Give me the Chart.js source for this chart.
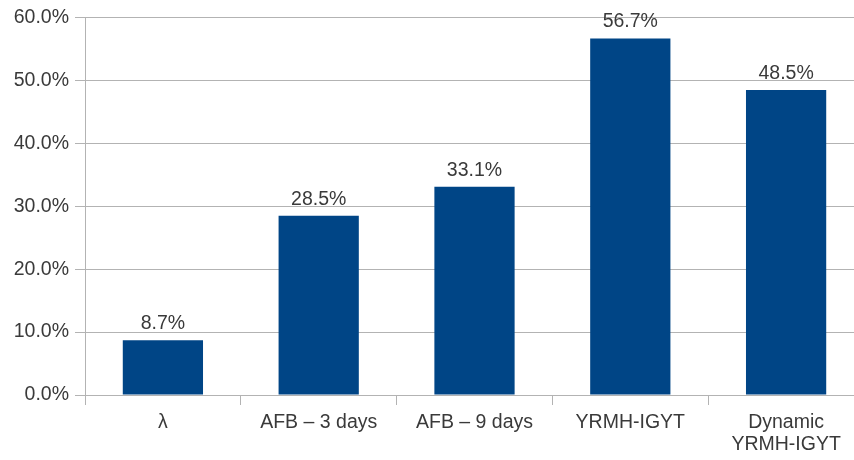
<!DOCTYPE html>
<html><head><meta charset="utf-8">
<script src="https://cdn.jsdelivr.net/npm/chart.js@4/dist/chart.umd.min.js"></script>
<style>
html,body{margin:0;padding:0;background:#fff;overflow:hidden;}
#wrap{position:relative;width:864px;height:460px;}
</style></head>
<body>
<div id="wrap"><canvas id="c"></canvas></div>
<script>
const categories = ["λ", "AFB – 3 days", "AFB – 9 days", "YRMH-IGYT", ["Dynamic", "YRMH-IGYT"]];
const values = [8.7, 28.5, 33.1, 56.7, 48.5];
const yTicks = [0, 10, 20, 30, 40, 50, 60];

const FONT = "'Liberation Sans', Arial, sans-serif";
const FS = 19.5;
const TEXT = "#3a3a3a";
const GRID = "#b3b3b3";

const labelPlugin = {
  id: 'barLabels',
  afterDatasetsDraw(chart) {
    const ctx = chart.ctx;
    const meta = chart.getDatasetMeta(0);
    ctx.save();
    ctx.font = FS + "px " + FONT;
    ctx.fillStyle = TEXT;
    ctx.textAlign = 'center';
    ctx.textBaseline = 'alphabetic';
    meta.data.forEach((bar, i) => {
      ctx.fillText(values[i].toFixed(1) + '%', bar.x, bar.y - 11);
    });
    ctx.restore();
  }
};

new Chart(document.getElementById('c'), {
  type: 'bar',
  data: {
    labels: categories,
    datasets: [{
      data: values,
      backgroundColor: '#004586',
      borderWidth: 0,
      categoryPercentage: 1,
      barPercentage: 0.515
    }]
  },
  plugins: [labelPlugin],
  options: {
    responsive: true,
    maintainAspectRatio: false,
    animation: false,
    layout: { padding: { top: 16, left: 0, right: 0, bottom: 0 } },
    plugins: { legend: { display: false }, tooltip: { enabled: false } },
    scales: {
      x: {
        offset: true,
        grid: { display: true, offset: true, drawOnChartArea: false, drawTicks: true, tickLength: 10, color: GRID, lineWidth: 1 },
        border: { display: true, color: GRID, width: 1 },
        ticks: { color: TEXT, font: { family: FONT, size: FS, lineHeight: 1.13 }, padding: 7, maxRotation: 0, autoSkip: false },
        afterFit(scale) { scale.height = 65; }
      },
      y: {
        min: 0, max: 60,
        afterBuildTicks(scale) { scale.ticks = yTicks.map(v => ({ value: v })); },
        grid: { color: GRID, lineWidth: 1, tickLength: 10, drawTicks: true },
        border: { display: true, color: GRID, width: 1 },
        ticks: { color: TEXT, font: { family: FONT, size: FS }, padding: 6,
          callback: v => Number(v).toFixed(1) + '%' },
        afterFit(scale) { scale.width = 85; }
      }
    }
  }
});
</script>
</body></html>
